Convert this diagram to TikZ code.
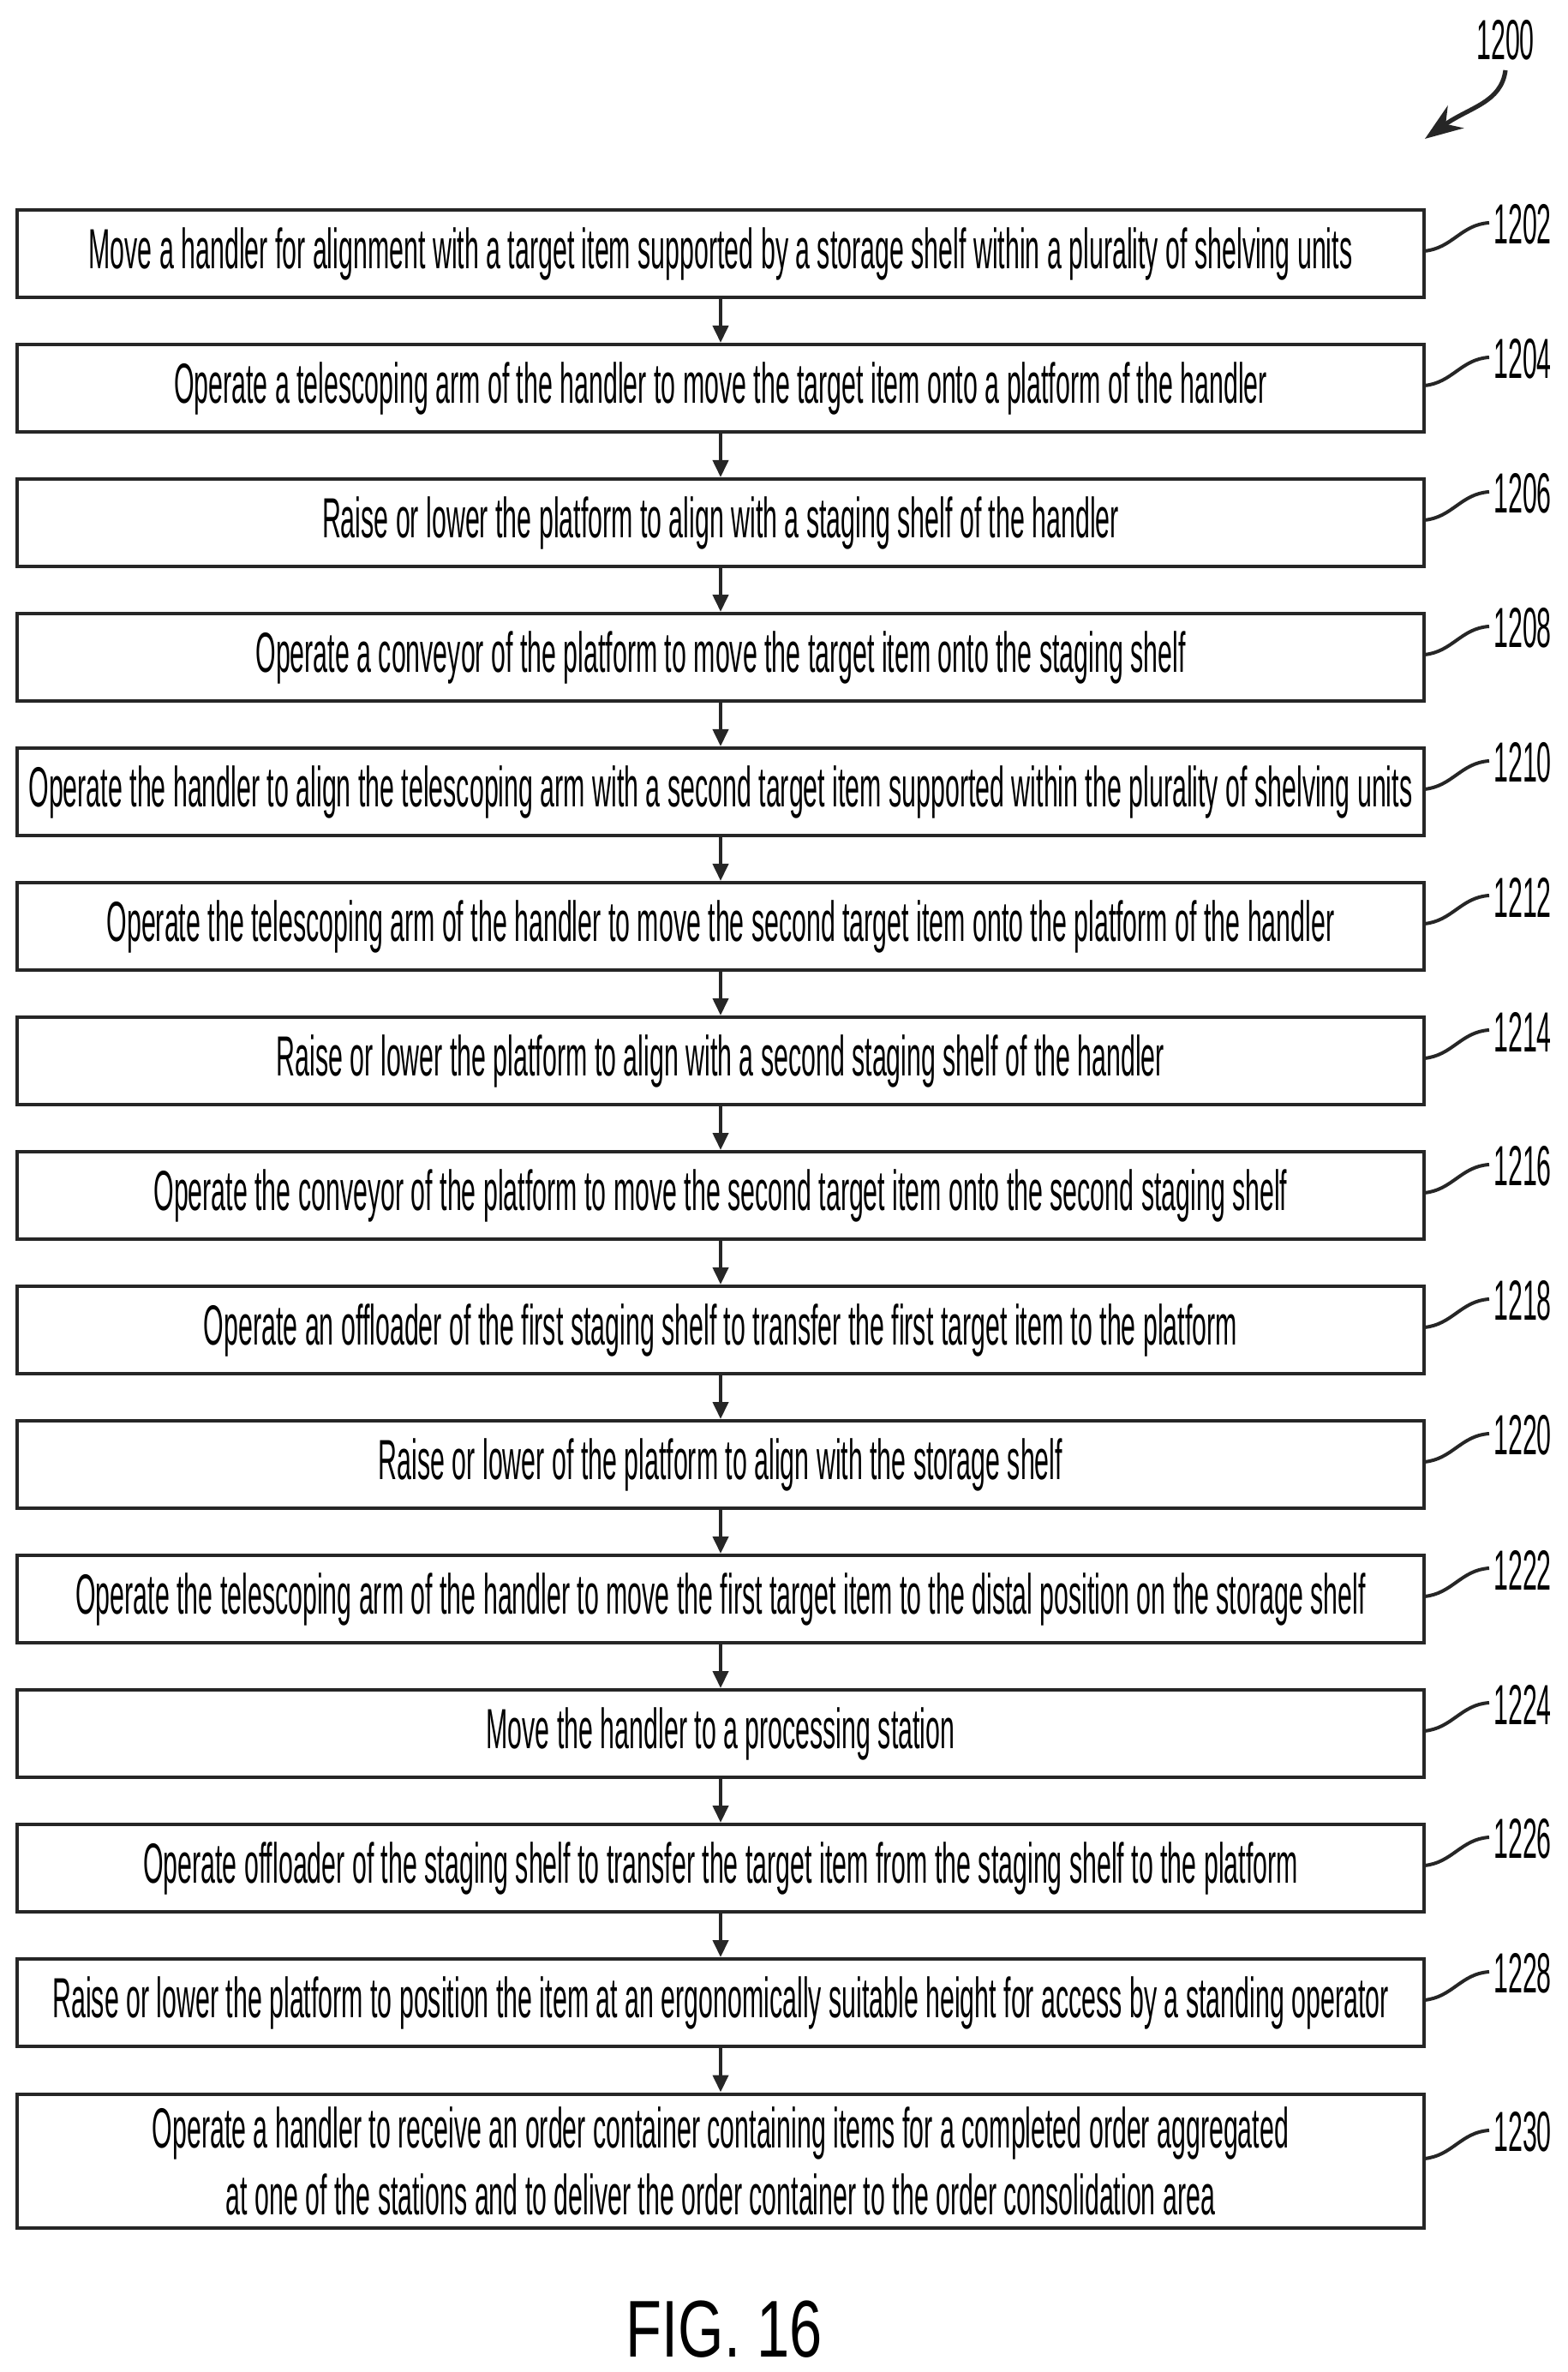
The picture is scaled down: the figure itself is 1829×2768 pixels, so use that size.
\documentclass[tikz,border=0pt]{standalone}
\usepackage{fontspec}
\setmainfont{Liberation Sans}
\newfontfamily\narrowfont[FakeStretch=0.46]{Liberation Sans}
\newfontfamily\figfont[FakeStretch=0.73]{Liberation Sans}
\usetikzlibrary{arrows.meta}
\tikzset{every picture/.style={line width=0.75pt}}
\tikzset{
  stepbox/.style={draw=black!85, line width=1pt, minimum width=410.5pt, minimum height=25.5pt, inner sep=2pt, align=center, font=\narrowfont\fontsize{16.5}{19.5}\selectfont},
  flowarrow/.style={draw=black!85, line width=1pt, -{Triangle[length=5pt,width=4.5pt]}},
  refnum/.style={font=\narrowfont\fontsize{16.5}{19}\selectfont, inner sep=0.75pt}
}
\begin{document}
\begin{tikzpicture}[x=0.25pt,y=0.25pt,yscale=-1,xscale=1]
\useasboundingbox (0,0) rectangle (1829,2768);

% Step boxes
\foreach \i/\txt in {1/{Move a handler for alignment with a target item supported by a storage shelf within a plurality of shelving units},
  2/{Operate a telescoping arm of the handler to move the target item onto a platform of the handler},
  3/{Raise or lower the platform to align with a staging shelf of the handler},
  4/{Operate a conveyor of the platform to move the target item onto the staging shelf},
  5/{Operate the handler to align the telescoping arm with a second target item supported within the plurality of shelving units},
  6/{Operate the telescoping arm of the handler to move the second target item onto the platform of the handler},
  7/{Raise or lower the platform to align with a second staging shelf of the handler},
  8/{Operate the conveyor of the platform to move the second target item onto the second staging shelf},
  9/{Operate an offloader of the first staging shelf to transfer the first target item to the platform},
  10/{Raise or lower of the platform to align with the storage shelf},
  11/{Operate the telescoping arm of the handler to move the first target item to the distal position on the storage shelf},
  12/{Move the handler to a processing station},
  13/{Operate offloader of the staging shelf to transfer the target item from the staging shelf to the platform},
  14/{Raise or lower the platform to position the item at an ergonomically suitable height for access by a standing operator}}
{
  \node[stepbox] (s\i) at (841,{296+157*(\i-1)}) {\txt};
  \pgfmathtruncatemacro{\num}{1200+2*\i}
  \draw[black!85, line width=1pt] (1662,{293+157*(\i-1)}) .. controls (1695,{290+157*(\i-1)}) and (1705,{262+157*(\i-1)}) .. (1738,{260+157*(\i-1)});
  \node[refnum] (n\i) at (1777,{262+157*(\i-1)}) {\num};
}
\node[stepbox, minimum height=39pt] (s15) at (841,2521.5) {Operate a handler to receive an order container containing items for a completed order aggregated\\at one of the stations and to deliver the order container to the order consolidation area};
\draw[black!85, line width=1pt] (1662,2519) .. controls (1695,2516) and (1705,2488) .. (1738,2486);
\node[refnum] (n15) at (1777,2488) {1230};

% Connectors
\foreach \i [evaluate=\i as \j using int(\i+1)] in {1,...,14}
  \draw[flowarrow] (s\i) -- (s\j);

% Figure number
\node[refnum] (fignum) at (1757,47) {1200};
\draw[black!85, line width=1.3pt, -{Stealth[length=11pt,width=8pt]}] (1757,82) .. controls (1752,120) and (1715,125) .. (1663,162);
\node[font=\figfont\fontsize{23.5}{28}\selectfont] (fig) at (845,2718) {FIG. 16};
\end{tikzpicture}
\end{document}
